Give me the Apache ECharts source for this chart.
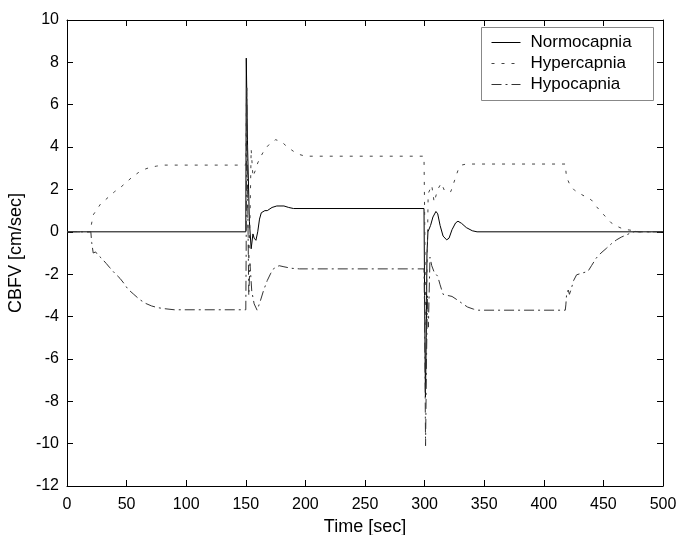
<!DOCTYPE html>
<html>
<head>
<meta charset="utf-8">
<script src="https://cdn.jsdelivr.net/npm/echarts@6/dist/echarts.min.js"></script>
<style>html,body{margin:0;padding:0;background:#fff;}#c{width:678px;height:535px;}</style>
</head>
<body>
<div id="c"></div>
<script>
const seriesNames = ['Normocapnia', 'Hypercapnia', 'Hypocapnia'];
const xTicks = [0, 50, 100, 150, 200, 250, 300, 350, 400, 450, 500];
const yTicks = [-12, -10, -8, -6, -4, -2, 0, 2, 4, 6, 8, 10];

// [time (sec), CBFV (cm/sec)]
const normocapnia = [
  [0,0],[150,0],[150.4,8.2],[151.5,4],[153,0.5],[154.5,-0.8],[156,-0.1],[157,-0.3],[158.5,-0.4],
  [160,0],[161.5,0.6],[163,0.9],[166,1.0],[168,1.0],[172,1.15],[176,1.22],[182,1.22],[186,1.15],
  [190,1.1],[299.5,1.1],[300,-3],[300.7,-7.8],[301.4,-5],[302,-1],[302.8,0],[304,-0.05],[305,0.3],
  [307,0.7],[309.5,0.96],[311,0.85],[313,0.3],[315.5,-0.2],[318.5,-0.38],[320.5,-0.3],[323,0.1],
  [326,0.42],[328,0.5],[331,0.4],[335,0.2],[340,0.05],[344,0],[500,0]
];
const hypercapnia = [
  [0,0],[19,0],[20,0.2],[22,0.8],[25,1.05],[28,1.3],[32,1.5],[36,1.7],[40,1.9],[45,2.1],[50,2.35],
  [55,2.6],[60,2.8],[65,2.95],[70,3.05],[75,3.1],[80,3.15],[150,3.15],[150.5,6.2],[151.5,1],
  [152.5,-1.4],[153.5,0.5],[154.5,3.9],[156,2.6],[158,2.9],[160,3.25],[163,3.6],[166,3.9],[170,4.15],
  [175,4.35],[180,4.25],[185,4.0],[190,3.8],[195,3.65],[200,3.57],[299.5,3.57],[300,1],[301,-4.5],
  [302,-2],[303,1.8],[306,2.2],[308,1.4],[311,2.0],[314,2.3],[317,1.9],[322,1.9],[325,2.4],[328,2.9],
  [331,3.15],[335,3.2],[418,3.2],[419,2.6],[422,2.2],[426,1.95],[432,1.75],[437,1.6],[440,1.5],
  [444,1.2],[448,0.95],[452,0.7],[456,0.45],[460,0.3],[465,0.17],[470,0.1],[476,0.05],[480,0],[500,0]
];
const hypocapnia = [
  [0,0],[20,0],[20.7,-0.5],[22,-1.0],[24,-0.95],[26,-1.1],[29,-1.25],[33,-1.5],[36,-1.7],[40,-1.95],
  [44.5,-2.2],[48,-2.45],[51,-2.7],[56,-2.95],[61,-3.2],[66,-3.38],[71,-3.5],[76,-3.58],[82,-3.63],
  [90,-3.68],[150,-3.68],[150.3,-1],[150.8,6.8],[151.5,2],[152.5,-3],[153.5,-1.5],[155,-2.8],
  [157,-3.4],[159.5,-3.7],[162,-3.3],[165,-2.75],[168,-2.3],[171,-1.95],[174,-1.7],[178,-1.6],
  [182,-1.65],[188,-1.72],[195,-1.75],[299.5,-1.75],[300,-4],[300.8,-10.1],[301.6,-6],[302.4,-3],
  [303.2,-4.5],[304.5,-1.2],[306,-1.6],[308,-1.9],[311,-2.1],[313,-2.5],[315.5,-2.95],[319,-3.0],
  [323,-3.05],[327,-3.2],[331,-3.36],[336,-3.55],[341,-3.65],[345,-3.7],[418,-3.7],[418.5,-3.45],
  [419.2,-2.9],[420.5,-2.75],[421.5,-2.95],[423,-2.7],[425,-2.3],[427.5,-2.03],[432,-1.95],[437,-1.87],
  [440,-1.6],[444,-1.24],[448,-1.0],[452.7,-0.77],[457,-0.55],[461,-0.38],[465,-0.25],[469.6,-0.14],
  [473,-0.05],[476.5,0.02],[480,0],[500,0]
];

const FONT = '"Liberation Sans", Arial, sans-serif';
const chart = echarts.init(document.getElementById('c'), null, {renderer: 'canvas'});

const xMin = xTicks[0], xMax = xTicks[xTicks.length - 1], xInt = xTicks[1] - xTicks[0];
const yMin = yTicks[0], yMax = yTicks[yTicks.length - 1], yInt = yTicks[1] - yTicks[0];

function xAx(pos, show) {
  return {
    type: 'value', position: pos, min: xMin, max: xMax, interval: xInt,
    axisLine: {show: true, onZero: false, lineStyle: {color: '#000', width: 1}},
    axisTick: {show: true, inside: true, length: 6, lineStyle: {color: '#000'}},
    axisLabel: {show: show, color: '#000', fontSize: 16, fontFamily: FONT, margin: 11},
    splitLine: {show: false}
  };
}
function yAx(pos, show) {
  return {
    type: 'value', position: pos, min: yMin, max: yMax, interval: yInt,
    axisLine: {show: true, onZero: false, lineStyle: {color: '#000', width: 1}},
    axisTick: {show: true, inside: true, length: 6, lineStyle: {color: '#000'}},
    axisLabel: {show: show, color: '#000', fontSize: 16, fontFamily: FONT, margin: 8},
    splitLine: {show: false}
  };
}

const xA = xAx('bottom', true);
xA.name = 'Time [sec]'; xA.nameLocation = 'middle'; xA.nameGap = 26;
xA.nameTextStyle = {color: '#000', fontSize: 18, fontFamily: FONT};
const yA = yAx('left', true);
yA.name = 'CBFV [cm/sec]'; yA.nameLocation = 'middle'; yA.nameGap = 34;
yA.nameTextStyle = {color: '#000', fontSize: 18, fontFamily: FONT};

const styles = [
  {color: '#000', type: 'solid'},
  {color: '#444', type: [3, 7]},
  {color: '#333', type: [10, 4, 2, 4]}
];
const datas = [normocapnia, hypercapnia, hypocapnia];

chart.setOption({
  animation: false,
  backgroundColor: '#fff',
  grid: {left: 67, right: 15, top: 20, bottom: 49, containLabel: false, outerBoundsMode: 'none'},
  xAxis: [xA, xAx('top', false)],
  yAxis: [yA, yAx('right', false)],
  legend: {
    orient: 'vertical', left: 491, top: 34, padding: 0, itemGap: 4,
    itemWidth: 29, itemHeight: 14,
    itemStyle: {opacity: 0},
    lineStyle: {width: 1},
    textStyle: {color: '#000', fontSize: 17, fontFamily: FONT, padding: [0, 0, 0, 5]},
    data: seriesNames.slice(),
    z: 10
  },
  graphic: [{
    type: 'rect', left: 481, top: 27, z: 5,
    shape: {width: 172, height: 73},
    style: {fill: '#fff', stroke: '#888', lineWidth: 1}
  }],
  series: seriesNames.map((n, i) => ({
    name: n, type: 'line', data: datas[i], showSymbol: false, symbol: 'none',
    xAxisIndex: 0, yAxisIndex: 0,
    lineStyle: {color: styles[i].color, width: 1, type: styles[i].type},
    itemStyle: {color: styles[i].color},
    emphasis: {disabled: true}
  }))
});
</script>
</body>
</html>
